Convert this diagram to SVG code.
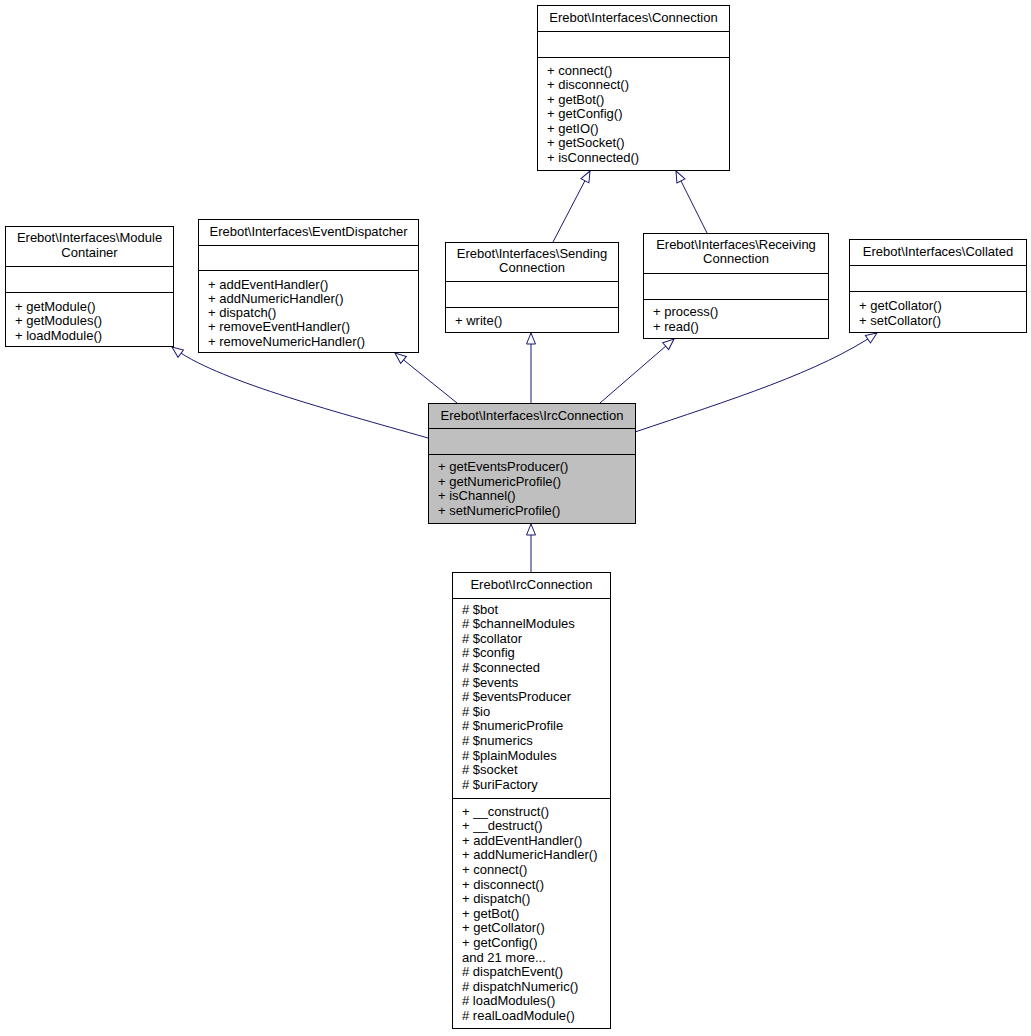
<svg xmlns="http://www.w3.org/2000/svg" width="1031" height="1036" viewBox="0 0 1031 1036">
<style>
text{font-family:"Liberation Sans",Arial,Helvetica,sans-serif;font-size:13px;fill:#000}
.t{text-anchor:middle}
.b{fill:#fff;stroke:#000;stroke-width:1}
.g{fill:#bfbfbf;stroke:#000;stroke-width:1}
.s{stroke:#000;stroke-width:1}
.e{fill:none;stroke:#191970;stroke-width:1;marker-end:url(#a)}
</style>
<defs>
<marker id="a" markerUnits="userSpaceOnUse" markerWidth="14" markerHeight="12" refX="12" refY="5.5" orient="auto" viewBox="0 0 14 11">
<path d="M1,1 L12,5.5 L1,10 Z" fill="#fff" stroke="#191970" stroke-width="1"/>
</marker>
</defs>
<rect width="1031" height="1036" fill="#fff"/>
<g id="connectors">
<path class="e" d="M553,242 L590,171"/>
<path class="e" d="M707,233 L676,171"/>
<path class="e" d="M428,438 C330,410 215,380 172,347"/>
<path class="e" d="M457,403 L395,353"/>
<path class="e" d="M531,403 L531,333"/>
<path class="e" d="M600,403 L674,339"/>
<path class="e" d="M635,432 C730,400 820,372 877,333"/>
<path class="e" d="M531,572 L531,524"/>
</g>
<g id="node-connection">
<rect class="b" x="537.5" y="5.5" width="192" height="165"/>
<line class="s" x1="537.5" y1="31.5" x2="729.5" y2="31.5"/>
<line class="s" x1="537.5" y1="57.5" x2="729.5" y2="57.5"/>
<text class="t" x="633.5" y="22">Erebot\Interfaces\Connection</text>
<text x="547" y="74.5">+ connect()</text>
<text x="547" y="89">+ disconnect()</text>
<text x="547" y="103.6">+ getBot()</text>
<text x="547" y="118.2">+ getConfig()</text>
<text x="547" y="132.8">+ getIO()</text>
<text x="547" y="147.4">+ getSocket()</text>
<text x="547" y="162">+ isConnected()</text>
</g>
<g id="node-modulecontainer">
<rect class="b" x="5.5" y="226.5" width="168" height="120"/>
<line class="s" x1="5.5" y1="266.5" x2="173.5" y2="266.5"/>
<line class="s" x1="5.5" y1="292.5" x2="173.5" y2="292.5"/>
<text class="t" x="89.5" y="241.5">Erebot\Interfaces\Module</text>
<text class="t" x="89.5" y="256.5">Container</text>
<text x="15" y="310.5">+ getModule()</text>
<text x="15" y="325">+ getModules()</text>
<text x="15" y="339.5">+ loadModule()</text>
</g>
<g id="node-eventdispatcher">
<rect class="b" x="198.5" y="219.5" width="220" height="133"/>
<line class="s" x1="198.5" y1="245.5" x2="418.5" y2="245.5"/>
<line class="s" x1="198.5" y1="270.5" x2="418.5" y2="270.5"/>
<text class="t" x="308.5" y="236">Erebot\Interfaces\EventDispatcher</text>
<text x="208" y="288.5">+ addEventHandler()</text>
<text x="208" y="302.8">+ addNumericHandler()</text>
<text x="208" y="317.1">+ dispatch()</text>
<text x="208" y="331.4">+ removeEventHandler()</text>
<text x="208" y="345.7">+ removeNumericHandler()</text>
</g>
<g id="node-sendingconnection">
<rect class="b" x="445.5" y="242.5" width="173" height="90"/>
<line class="s" x1="445.5" y1="281.5" x2="618.5" y2="281.5"/>
<line class="s" x1="445.5" y1="307.5" x2="618.5" y2="307.5"/>
<text class="t" x="532" y="257.5">Erebot\Interfaces\Sending</text>
<text class="t" x="532" y="272">Connection</text>
<text x="455" y="324.5">+ write()</text>
</g>
<g id="node-receivingconnection">
<rect class="b" x="643.5" y="233.5" width="185" height="105"/>
<line class="s" x1="643.5" y1="273.5" x2="828.5" y2="273.5"/>
<line class="s" x1="643.5" y1="299.5" x2="828.5" y2="299.5"/>
<text class="t" x="736" y="248.5">Erebot\Interfaces\Receiving</text>
<text class="t" x="736" y="263">Connection</text>
<text x="653" y="316">+ process()</text>
<text x="653" y="331">+ read()</text>
</g>
<g id="node-collated">
<rect class="b" x="849.5" y="239.5" width="177" height="93"/>
<line class="s" x1="849.5" y1="265.5" x2="1026.5" y2="265.5"/>
<line class="s" x1="849.5" y1="291.5" x2="1026.5" y2="291.5"/>
<text class="t" x="938" y="256">Erebot\Interfaces\Collated</text>
<text x="859" y="310">+ getCollator()</text>
<text x="859" y="324.5">+ setCollator()</text>
</g>
<g id="node-ircconnection-interface">
<rect class="g" x="428.5" y="403.5" width="207" height="120"/>
<line class="s" x1="428.5" y1="428.5" x2="635.5" y2="428.5"/>
<line class="s" x1="428.5" y1="454.5" x2="635.5" y2="454.5"/>
<text class="t" x="532" y="420">Erebot\Interfaces\IrcConnection</text>
<text x="438" y="471">+ getEventsProducer()</text>
<text x="438" y="485.6">+ getNumericProfile()</text>
<text x="438" y="500.2">+ isChannel()</text>
<text x="438" y="514.8">+ setNumericProfile()</text>
</g>
<g id="node-ircconnection">
<rect class="b" x="452.5" y="572.5" width="158" height="456"/>
<line class="s" x1="452.5" y1="598.5" x2="610.5" y2="598.5"/>
<line class="s" x1="452.5" y1="798.5" x2="610.5" y2="798.5"/>
<text class="t" x="531.5" y="589">Erebot\IrcConnection</text>
<text x="462" y="613.5"># $bot</text>
<text x="462" y="628.1"># $channelModules</text>
<text x="462" y="642.7"># $collator</text>
<text x="462" y="657.3"># $config</text>
<text x="462" y="671.9"># $connected</text>
<text x="462" y="686.5"># $events</text>
<text x="462" y="701.1"># $eventsProducer</text>
<text x="462" y="715.7"># $io</text>
<text x="462" y="730.3"># $numericProfile</text>
<text x="462" y="744.9"># $numerics</text>
<text x="462" y="759.5"># $plainModules</text>
<text x="462" y="774.1"># $socket</text>
<text x="462" y="788.7"># $uriFactory</text>
<text x="462" y="815.5">+ __construct()</text>
<text x="462" y="830.1">+ __destruct()</text>
<text x="462" y="844.7">+ addEventHandler()</text>
<text x="462" y="859.3">+ addNumericHandler()</text>
<text x="462" y="873.9">+ connect()</text>
<text x="462" y="888.5">+ disconnect()</text>
<text x="462" y="903.1">+ dispatch()</text>
<text x="462" y="917.7">+ getBot()</text>
<text x="462" y="932.3">+ getCollator()</text>
<text x="462" y="946.9">+ getConfig()</text>
<text x="462" y="961.5">and 21 more...</text>
<text x="462" y="976.1"># dispatchEvent()</text>
<text x="462" y="990.7"># dispatchNumeric()</text>
<text x="462" y="1005.3"># loadModules()</text>
<text x="462" y="1019.9"># realLoadModule()</text>
</g>
</svg>
